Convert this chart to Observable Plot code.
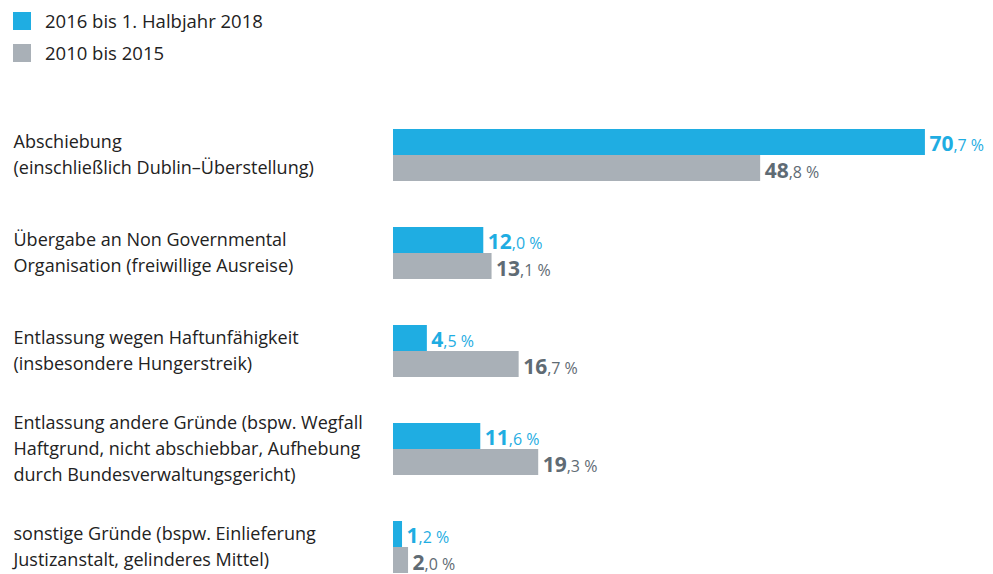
<!DOCTYPE html>
<html>
<head>
<meta charset="utf-8">
<script src="https://cdn.jsdelivr.net/npm/d3@7"></script>
<script src="https://cdn.jsdelivr.net/npm/@observablehq/plot@0.6"></script>
<style>
  html, body { margin: 0; padding: 0; background: #fff; overflow: hidden; }
  body { font-family: "Open Sans", sans-serif; color: #222; }
  #legend { position: relative; height: 80px; width: 993px; }
  .sw { position: absolute; left: 13px; width: 18px; height: 18px; }
  .lt { position: absolute; left: 45px; font-size: 18.5px; line-height: 20px; }
</style>
</head>
<body>
<div id="legend"></div>
<div id="chart"></div>
<script>
const categories = [
  "Abschiebung\n(einschließlich Dublin–Überstellung)",
  "Übergabe an Non Governmental\nOrganisation (freiwillige Ausreise)",
  "Entlassung wegen Haftunfähigkeit\n(insbesondere Hungerstreik)",
  "Entlassung andere Gründe (bspw. Wegfall\nHaftgrund, nicht abschiebbar, Aufhebung\ndurch Bundesverwaltungsgericht)",
  "sonstige Gründe (bspw. Einlieferung\nJustizanstalt, gelinderes Mittel)"
];
const series = ["2016 bis 1. Halbjahr 2018", "2010 bis 2015"];
const recentValues = [70.7, 12.0, 4.5, 11.6, 1.2];
const earlierValues = [48.8, 13.1, 16.7, 19.3, 2.0];

const BLUE = "#1fade2", GRAY = "#a9b0b7";
const colors = [BLUE, GRAY];

// legend
const legend = document.getElementById("legend");
series.forEach((s, i) => {
  const sw = document.createElement("div");
  sw.className = "sw";
  sw.style.top = (12 + i * 32) + "px";
  sw.style.background = colors[i];
  legend.appendChild(sw);
  const t = document.createElement("div");
  t.className = "lt";
  t.style.top = (11 + i * 32) + "px";
  t.textContent = s;
  legend.appendChild(t);
});

const recentRows = categories.map((c, i) => ({category: c, series: series[0], value: recentValues[i]}));
const earlierRows = categories.map((c, i) => ({category: c, series: series[1], value: earlierValues[i]}));

const fmt = v => v.toFixed(1).replace(".", ",") + " %";

function splitLabel(index, scales, values, dimensions, context, next) {
  const g = next(index, scales, values, dimensions, context);
  d3.select(g).selectAll("text").each(function() {
    const txt = this.textContent;
    const k = txt.indexOf(",");
    const intPart = txt.slice(0, k), rest = txt.slice(k);
    const sel = d3.select(this);
    sel.text(null);
    sel.append("tspan").attr("font-weight", 700).attr("font-size", 21).text(intPart);
    sel.append("tspan").attr("font-weight", 400).attr("font-size", 16).text(rest);
  });
  return g;
}

const chart = Plot.plot({
  width: 993,
  height: 516,
  marginLeft: 393,
  marginRight: 0,
  marginTop: 26,
  marginBottom: 0,
  style: {fontFamily: "Open Sans, sans-serif", background: "white"},
  x: {domain: [0, 79.75], axis: null},
  y: {domain: categories, axis: null, padding: 0},
  marks: [
    Plot.barX(recentRows, {x: "value", y: "category", fill: BLUE, insetTop: 23, insetBottom: 49}),
    Plot.barX(earlierRows, {x: "value", y: "category", fill: GRAY, insetTop: 49, insetBottom: 23}),
    Plot.text(recentRows, {x: "value", y: "category", text: d => fmt(d.value), textAnchor: "start", dx: 4, dy: -11, fill: BLUE, fontSize: 21, render: splitLabel}),
    Plot.text(earlierRows, {x: "value", y: "category", text: d => fmt(d.value), textAnchor: "start", dx: 4, dy: 16, fill: "#5f6b74", fontSize: 21, render: splitLabel}),
    Plot.text(categories, {y: d => d, text: d => d, frameAnchor: "left", textAnchor: "start", dx: -380, dy: -3, lineHeight: 1.47, fontSize: 18, fill: "#222"})
  ]
});
document.getElementById("chart").appendChild(chart);
</script>
</body>
</html>
